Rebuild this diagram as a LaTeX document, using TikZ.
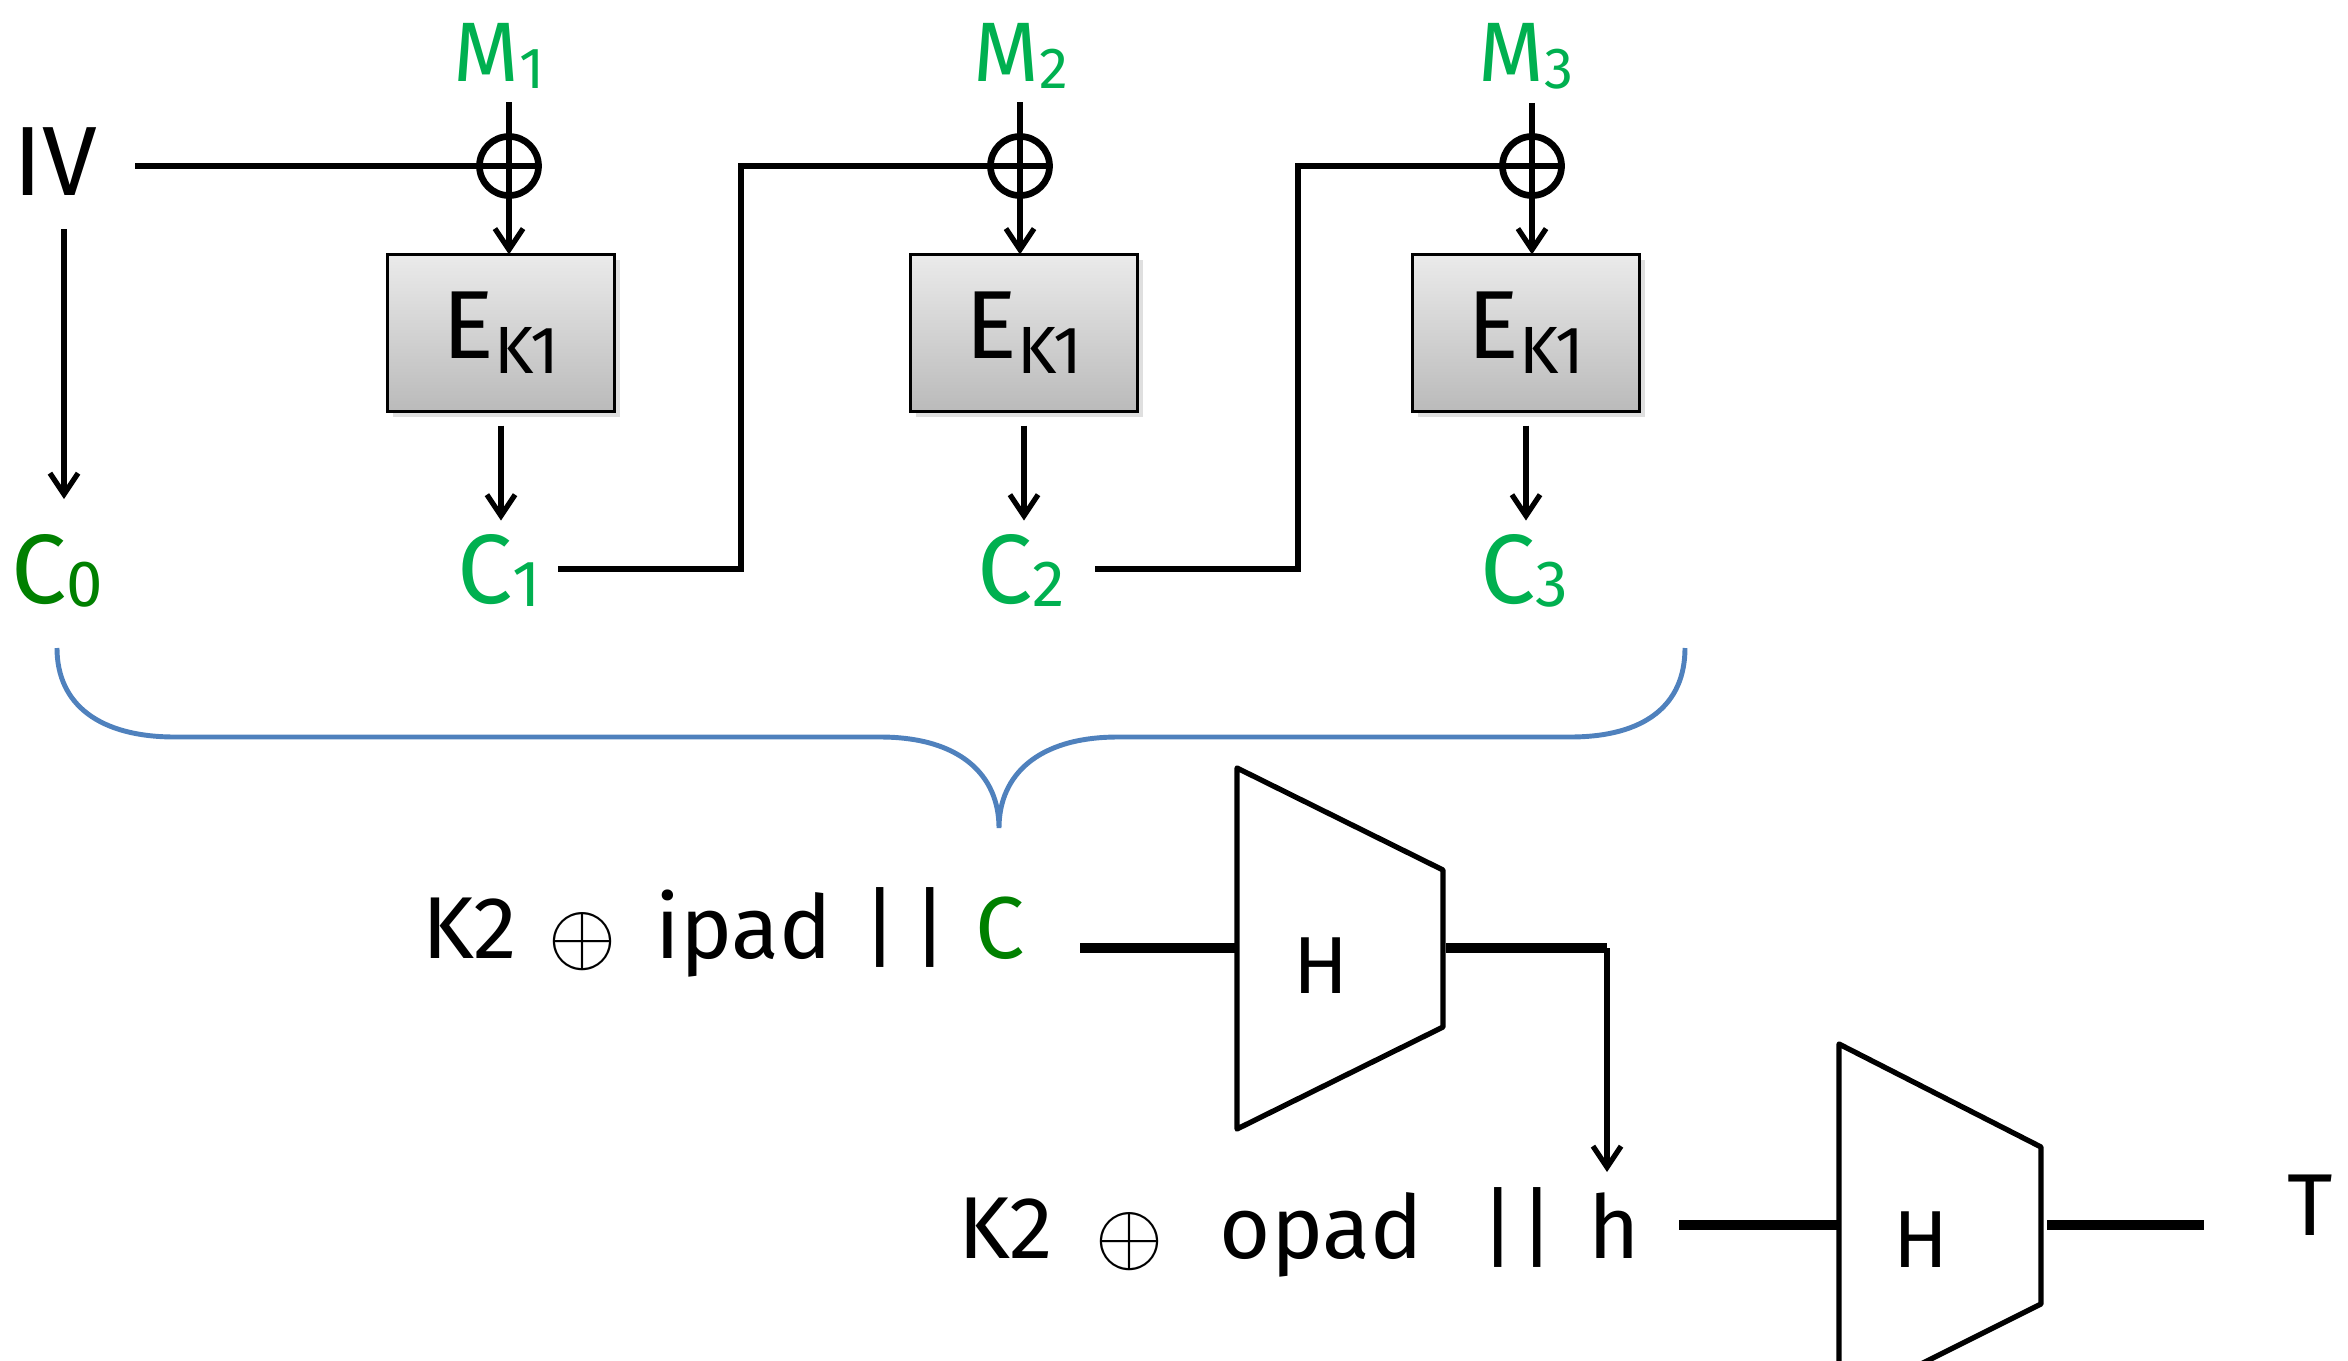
\documentclass[tikz,border=0pt]{standalone}
\usepackage{fontspec}
\setmainfont{Fira Sans}
\usetikzlibrary{arrows.meta,shadows}
\definecolor{mgreen}{HTML}{00B050}
\definecolor{dgreen}{HTML}{008000}
\definecolor{bracecol}{HTML}{4F81BD}
\newcommand\lowsub[3]{{\fontsize{#1}{#1}\selectfont\raisebox{-#2}{#3}}}
\begin{document}
\begin{tikzpicture}[x=0.01cm,y=-0.01cm,
  every node/.style={inner sep=0pt, outer sep=0pt},
  wire/.style={line width=1.5pt},
  thickwire/.style={line width=3.1pt},
  arr/.style={wire,-{Straight Barb[length=6pt,width=8pt]}},
  xorn/.style={circle, draw, line width=1.9pt, minimum size=0.59cm,
    path picture={\draw[line width=1.5pt]
      (path picture bounding box.north) -- (path picture bounding box.south)
      (path picture bounding box.west) -- (path picture bounding box.east);}},
  encbox/.style={draw, line width=0.9pt, top color=black!8, bottom color=black!27,
    minimum width=2.27cm, minimum height=1.57cm,
    drop shadow={opacity=0.25, shadow xshift=1.5pt, shadow yshift=-1.5pt},
    font=\fontsize{27.5}{29}\selectfont},
  mlbl/.style={text=mgreen, anchor=base, font=\fontsize{24}{26}\selectfont},
  clbl/.style={text=mgreen, anchor=base, font=\fontsize{28}{30}\selectfont},
  hash/.style={line width=1.5pt, line join=round},
  hlbl/.style={font=\fontsize{23}{25}\selectfont},
  txt/.style={anchor=base west, font=\fontsize{25}{27}\selectfont}
]
\useasboundingbox (0,0) rectangle (2348,1360);
\clip (0,0) rectangle (2348,1360);

% IV
\node[anchor=base, font=\fontsize{28}{30}\selectfont] (iv) at (55,195) {IV};
\coordinate (ivout) at (135,166);
\coordinate (ivdown) at (64,229);

% M labels
\node[mlbl] (m1) at (499,81) {M\lowsub{16.5}{2pt}{1}};
\node[mlbl] (m2) at (1021,81) {M\lowsub{16.5}{2pt}{2}};
\node[mlbl] (m3) at (1526,81) {M\lowsub{16.5}{2pt}{3}};

% XORs
\node[xorn] (x1) at (509,166) {};
\node[xorn] (x2) at (1020,166) {};
\node[xorn] (x3) at (1532,166) {};

% Boxes
\node[encbox] (b1) at (501,333) {E\lowsub{19}{4.3pt}{K1}};
\node[encbox] (b2) at (1024,333) {E\lowsub{19}{4.3pt}{K1}};
\node[encbox] (b3) at (1526,333) {E\lowsub{19}{4.3pt}{K1}};

% C labels
\node[clbl, text=dgreen] (c0) at (57,603) {C\lowsub{18.6}{1pt}{0}};
\node[clbl] (c1) at (499,603) {C\lowsub{18.6}{1pt}{1}};
\node[clbl] (c2) at (1021,603) {C\lowsub{18.6}{1pt}{2}};
\node[clbl] (c3) at (1524,603) {C\lowsub{18.6}{1pt}{3}};

% top connectors
\draw[wire] (ivout) -- (x1.east);
\draw[arr] (ivdown) -- (ivdown |- 0,499);
\foreach \i in {1,2,3}{
  \draw[arr, shorten <=2pt] (x\i |- m\i.south) ++(0,7) -- (x\i |- b\i.north);
  \draw[arr, shorten <=4pt] (b\i.south) -- ++(0,109);
}
\coordinate (c1o) at (558,569);
\coordinate (c2o) at (1095,569);
\draw[wire, line join=miter] (c1o) -- (741,569) -- (741,166) -- (x2.east);
\draw[wire, line join=miter] (c2o) -- (1298,569) -- (1298,166) -- (x3.east);

% brace
\draw[bracecol, line width=1.4pt]
  (57,648) .. controls (57,705) and (100,737) .. (175,737) -- (880,737)
  .. controls (960,737) and (999,775) .. (999,828)
  .. controls (999,775) and (1038,737) .. (1118,737) -- (1570,737)
  .. controls (1645,737) and (1685,705) .. (1685,648);

% first hash
\node[txt] (ipad) at (422,958) {K2\hspace{9pt}\raisebox{-1.5pt}{$\oplus$}\hspace{11pt}ipad\hspace{8.5pt}|\hspace{4.2pt}|\hspace{8pt}{\color{dgreen}C}};
\coordinate (in1) at (1080,948);
\coordinate (t1a) at (1237,768);
\coordinate (t1b) at (1443,870);
\coordinate (t1c) at (1443,1027);
\coordinate (t1d) at (1237,1129);
\draw[hash] (t1a) -- (t1b) -- (t1c) -- (t1d) -- cycle;
\node[hlbl] (h1) at (1321,966) {H};
\coordinate (t1w) at (1237,948);
\coordinate (t1e) at (1446,948);
\coordinate (knee) at (1607,948);
\draw[thickwire] (in1) -- (t1w);
\draw[thickwire] (t1e) -- (knee);

% second hash
\node[txt] (opad) at (958,1258) {K2\hspace{12pt}\raisebox{-1.5pt}{$\oplus$}\hspace{16pt}opad\hspace{16.3pt}|\hspace{1pt}|\hspace{9.7pt}h};
\draw[arr] (knee) -- (1607,1172);
\coordinate (in2) at (1679,1225);
\coordinate (t2a) at (1839,1044);
\coordinate (t2b) at (2041,1147);
\coordinate (t2c) at (2041,1304);
\coordinate (t2d) at (1839,1405);
\draw[hash] (t2a) -- (t2b) -- (t2c) -- (t2d) -- cycle;
\node[hlbl] (h2) at (1921,1240) {H};
\coordinate (t2w) at (1839,1225);
\coordinate (t2e) at (2047,1225);
\coordinate (out2) at (2204,1225);
\draw[thickwire] (in2) -- (t2w);
\draw[thickwire] (t2e) -- (out2);
\node[anchor=base, font=\fontsize{25}{27}\selectfont] (T) at (2310,1235) {T};
\end{tikzpicture}
\end{document}
